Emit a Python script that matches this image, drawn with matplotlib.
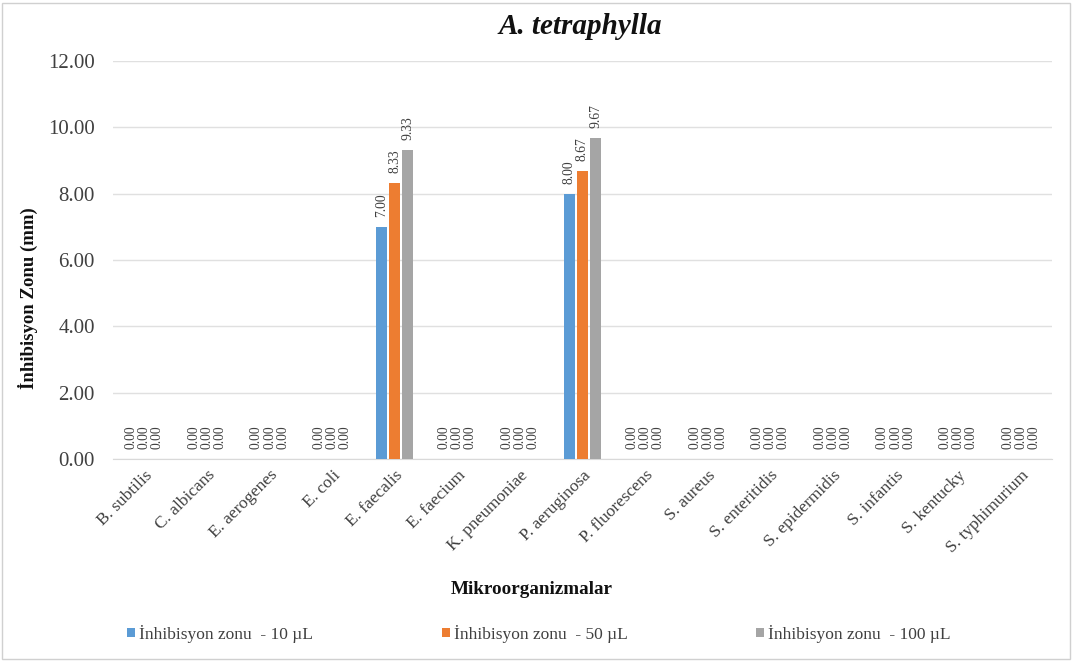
import matplotlib
matplotlib.use("Agg")
import matplotlib.pyplot as plt
import numpy as np
from matplotlib.patches import Rectangle

categories = ["B. subtilis", "C. albicans", "E. aerogenes", "E. coli", "E. faecalis",
              "E. faecium", "K. pneumoniae", "P. aeruginosa", "P. fluorescens", "S. aureus",
              "S. enteritidis", "S. epidermidis", "S. infantis", "S. kentucky", "S. typhimurium"]
series_names = ["İnhibisyon zonu  - 10 µL", "İnhibisyon zonu  - 50 µL", "İnhibisyon zonu  - 100 µL"]
vals_10 = [0, 0, 0, 0, 7.00, 0, 0, 8.00, 0, 0, 0, 0, 0, 0, 0]
vals_50 = [0, 0, 0, 0, 8.33, 0, 0, 8.67, 0, 0, 0, 0, 0, 0, 0]
vals_100 = [0, 0, 0, 0, 9.33, 0, 0, 9.67, 0, 0, 0, 0, 0, 0, 0]
colors = ["#5B9BD5", "#ED7D31", "#A5A5A5"]

plt.rcParams['font.family'] = ['Liberation Serif', 'DejaVu Serif']

fig = plt.figure(figsize=(10.73, 6.61), dpi=100)
ax = fig.add_axes([113/1073, 1-459/661, (1052-113)/1073, (459-61)/661])

x = np.arange(len(categories))
step = 0.21
width = 0.175
for i, (vals, c, name) in enumerate(zip([vals_10, vals_50, vals_100], colors, series_names)):
    xs = x + (i - 1) * step
    ax.bar(xs, vals, width=width, color=c, label=name, zorder=3)
    for xi, v in zip(xs, vals):
        ax.text(xi, v + 0.3, f"{v:.2f}", rotation=90, ha='center', va='bottom',
                fontsize=9.8, color='#404040', zorder=4)

ax.set_xlim(-0.5, len(categories) - 0.5)
ax.set_ylim(0, 12)
ax.set_yticks(np.arange(0, 12.01, 2))
ax.set_yticklabels([f"{t:.2f}" for t in np.arange(0, 12.01, 2)])
ax.yaxis.grid(True, color='#E0E0E0', linewidth=1, zorder=0)
ax.set_axisbelow(True)
for s in ['top', 'right', 'left']:
    ax.spines[s].set_visible(False)
ax.spines['bottom'].set_color('#D9D9D9')
ax.tick_params(axis='both', length=0, colors='#404040')
ax.tick_params(axis='y', labelsize=15, pad=13)
ax.set_xticks(x)
ax.set_xticklabels(categories, rotation=45, ha='right', rotation_mode='anchor', fontsize=12.5)
ax.tick_params(axis='x', pad=6)

fig.text(580/1073, 1-27/661, "A. tetraphylla", ha='center', va='center', fontsize=21,
         fontweight='bold', style='italic', color='#111111')
fig.text(28/1073, 1-298/661, "İnhibisyon Zonu (mm)", rotation=90, ha='center', va='center',
         fontsize=13.5, fontweight='bold', color='#111111')
fig.text(532/1073, 1-590/661, "Mikroorganizmalar", ha='center', va='center', fontsize=13.8,
         fontweight='bold', color='#111111')

handles, labels = ax.get_legend_handles_labels()
leg = fig.legend(handles, labels, loc='center', bbox_to_anchor=(539/1073, 1-634/661), ncol=3,
                 frameon=False, fontsize=12.5, handlelength=0.45, handleheight=0.45,
                 handletextpad=0.25, columnspacing=7.4)
for t in leg.get_texts():
    t.set_color('#404040')

fig.patches.append(Rectangle((2/1073, 2/661), 1068/1073, 656/661, transform=fig.transFigure,
                             fill=False, edgecolor='#D0D0D0', linewidth=1))

fig.savefig("out.png", dpi=100)
